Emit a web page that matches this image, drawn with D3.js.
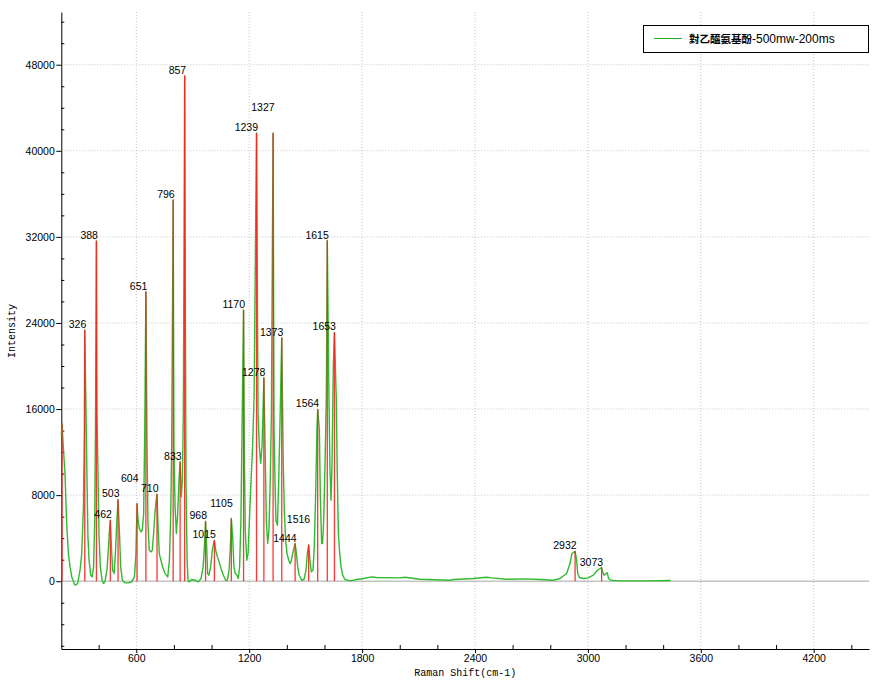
<!DOCTYPE html>
<html><head><meta charset="utf-8">
<script src="https://cdn.jsdelivr.net/npm/d3@7"></script>
<style>body{margin:0;background:#fff}</style>
</head><body><svg id="c" width="879" height="681"></svg>
<script>
// ---- DATA ----
const specShift = [202,205,212,221,230,239,248,257,274,288,301,310,319,324,326,333,338,343,349,358,366,373,379,383,388,391,397,402,409,418,427,435,444,451,457,462,467,474,482,489,496,503,510,517,526,540,558,575,590,598,604,609,616,625,632,639,645,651,657,662,669,678,685,692,699,705,710,715,722,731,740,753,767,776,783,788,796,800,806,813,820,827,833,839,845,850,857,864,870,875,880,894,912,930,944,955,962,968,974,979,986,995,1004,1015,1022,1031,1040,1050,1063,1075,1084,1093,1100,1105,1112,1119,1126,1135,1142,1149,1156,1162,1170,1174,1179,1187,1194,1201,1210,1218,1226,1239,1247,1254,1261,1268,1274,1278,1286,1291,1298,1305,1312,1318,1327,1332,1337,1342,1350,1357,1364,1373,1381,1387,1394,1401,1410,1419,1426,1435,1444,1451,1458,1466,1479,1491,1502,1509,1516,1523,1530,1539,1546,1553,1560,1564,1573,1578,1585,1590,1596,1603,1610,1615,1624,1629,1635,1640,1647,1653,1663,1668,1674,1681,1688,1697,1709,1736,1771,1807,1851,1877,2001,2028,2108,2267,2285,2391,2462,2489,2568,2675,2746,2816,2852,2887,2905,2915,2932,2940,2946,2955,2976,3002,3029,3050,3073,3078,3086,3096,3103,3110,3121,3171,3312,3440];
const specIntensity = [13500,14670,12490,10010,5360,2570,1330,400,-370,-220,1020,2570,6910,14050,23350,15600,9400,4130,1950,560,400,1330,5670,14050,31630,15600,9400,4130,1330,93,-220,93,1020,2880,4600,5670,3500,1020,710,2570,5360,7600,4740,1330,93,-155,-155,-62,400,2570,7230,5670,4900,4590,4740,6290,14050,26910,12490,5360,2880,2720,2880,4430,6290,7400,8090,5360,2570,1950,1330,710,400,1950,6290,12490,35440,12490,6910,4430,6290,9400,11100,7840,9400,15600,46980,9400,1950,93,-62,155,93,-62,250,1330,3190,5580,3190,710,560,1330,2880,3810,2880,2260,1800,1180,560,93,93,1020,3190,5830,4120,1330,710,560,250,1330,5670,14050,25200,12490,4740,1950,2570,5670,9400,12490,17150,41650,15600,12490,10950,12490,16220,18910,10950,5670,3500,4740,9400,15600,41650,14050,9400,5670,5200,9400,14980,22630,10950,6290,3810,2570,1950,1640,2100,2880,3500,2570,1330,560,93,155,1020,2570,3380,1950,870,1020,3190,7840,14050,15970,14050,7840,3500,3500,5670,10950,17150,31660,16840,10630,7530,10630,19940,23130,16840,10010,4430,2570,1330,560,155,31,155,250,400,340,310,370,180,93,155,250,370,310,186,217,155,93,250,720,1640,2570,2790,1950,720,340,250,310,560,1020,1270,870,560,720,780,250,93,31,31,62];

const peakShift = [205,326,388,462,503,604,651,710,796,833,857,968,1015,1105,1170,1239,1278,1327,1373,1444,1516,1564,1615,1653,2932,3073];
const peakIntensity = [14670,23350,31630,5670,7600,7230,26910,8090,35440,11100,46980,5580,3810,5830,25200,41650,18910,41650,22630,3500,3380,15970,31660,23130,2790,1270];
const peakLabels = ["","326","388","462","503","604","651","710","796","833","857","968","1015","1105","1170","1239","1278","1327","1373","1444","1516","1564","1615","1653","2932","3073"];

const xTickValues = [600,1200,1800,2400,3000,3600,4200];
const yTickValues = [0,8000,16000,24000,32000,40000,48000];
const legendName = "對乙醯氨基酚";
const legendSuffix = "-500mw-200ms";
const xTitle = "Raman Shift(cm-1)";
const yTitle = "Intensity";

// ---- LAYOUT ----
const labelLift = {"604":19,"1105":9,"1327":20,"1516":20};
const L = 61.3, R = 869, T = 12, B = 649;
const svg = d3.select("#c");
const x = d3.scaleLinear().domain([201.4, 4494]).range([L, R]);
const y = d3.scaleLinear().domain([-6300, 52900]).range([B, T]);
const tickFont = "'Liberation Sans', Arial, sans-serif";

// grid
const grid = svg.append("g").attr("stroke", "#c4c4c4").attr("stroke-width", 1).attr("stroke-dasharray", "1,2");
grid.selectAll("line.v").data(xTickValues).join("line")
  .attr("x1", d => x(d)).attr("x2", d => x(d)).attr("y1", T).attr("y2", B);
grid.selectAll("line.h").data(yTickValues.filter(d => d !== 0)).join("line")
  .attr("x1", L).attr("x2", R).attr("y1", d => y(d)).attr("y2", d => y(d));

// zero line
svg.append("line").attr("x1", L).attr("x2", R).attr("y1", y(0)).attr("y2", y(0))
  .attr("stroke", "#c3c3c3").attr("stroke-width", 1.6);

// minor tick values
const xMinor = d3.range(400, 4494, 200).filter(d => d % 600 !== 0);
const yMinor = d3.range(-6000, 52900, 2000).filter(d => d % 8000 !== 0);

// axes
const yAx = svg.append("g").attr("transform", `translate(${L},0)`)
  .call(d3.axisLeft(y).tickValues(yTickValues).tickSize(5).tickSizeOuter(0).tickPadding(1.5).tickFormat(d3.format("d")));
const yAxMinor = svg.append("g").attr("transform", `translate(${L},0)`)
  .call(d3.axisRight(y).tickValues(yMinor).tickSize(3).tickSizeOuter(0).tickFormat(""));
yAxMinor.select(".domain").remove();
const xAx = svg.append("g").attr("transform", `translate(0,${B})`)
  .call(d3.axisBottom(x).tickValues(xTickValues).tickSize(4).tickSizeOuter(0).tickPadding(1.5).tickFormat(d3.format("d")));
const xAxMinor = svg.append("g").attr("transform", `translate(0,${B})`)
  .call(d3.axisTop(x).tickValues(xMinor).tickSize(4).tickSizeOuter(0).tickFormat(""));
xAxMinor.select(".domain").remove();
[yAx, xAx, yAxMinor, xAxMinor].forEach(g => {
  g.selectAll("text").attr("font-family", tickFont).attr("font-size", "10.5px").attr("fill", "#000");
  g.selectAll("line").attr("stroke", "#000");
  g.selectAll(".domain").attr("stroke", "#000");
});

// spectrum line
const spec = specShift.map((s, i) => [s, specIntensity[i]]);
svg.append("path").datum(spec)
  .attr("fill", "none").attr("stroke", "#2fba2f").attr("stroke-width", 1.4).attr("stroke-linejoin", "round")
  .attr("d", d3.line().x(d => x(d[0])).y(d => y(d[1])));

// peak markers
const peaks = peakShift.map((s, i) => ({s, v: peakIntensity[i], label: peakLabels[i]}));
svg.append("g").selectAll("line").data(peaks).join("line")
  .attr("x1", d => x(d.s)).attr("x2", d => x(d.s))
  .attr("y1", y(0)).attr("y2", d => y(d.v))
  .attr("stroke", "#ff1e1e").attr("stroke-width", 1.3).attr("stroke-opacity", 0.9);

svg.append("g").selectAll("text").data(peaks.filter(d => d.label)).join("text")
  .attr("x", d => x(d.s) + 1.5)
  .attr("y", d => y(d.v) - 2 - (labelLift[d.label] || 0))
  .attr("text-anchor", "end")
  .attr("font-family", tickFont).attr("font-size", "10.5px").attr("fill", "#000")
  .text(d => d.label);

// axis titles
svg.append("text").attr("x", (L + R) / 2).attr("y", 676).attr("text-anchor", "middle")
  .attr("font-family", "'Liberation Mono', 'DejaVu Sans Mono', monospace").attr("font-size", "10px")
  .text(xTitle);
svg.append("text").attr("transform", `translate(15,331) rotate(-90)`).attr("text-anchor", "middle")
  .attr("font-family", "'Liberation Mono', 'DejaVu Sans Mono', monospace").attr("font-size", "10px")
  .text(yTitle);

// legend
const lg = svg.append("g");
lg.append("rect").attr("x", 643.5).attr("y", 25.5).attr("width", 225).attr("height", 27)
  .attr("fill", "#fff").attr("stroke", "#000").attr("stroke-width", 1);
lg.append("line").attr("x1", 654).attr("x2", 682).attr("y1", 38.5).attr("y2", 38.5)
  .attr("stroke", "#22aa22").attr("stroke-width", 1);
const lt = lg.append("text").attr("x", 689).attr("y", 42.5).attr("font-family", tickFont).attr("font-size", "12px").attr("fill", "#000");
lt.append("tspan").attr("font-family", "'Noto Sans CJK TC', 'Noto Sans CJK SC', sans-serif").attr("font-size", "10.5px").attr("font-weight", "bold").text(legendName);
lt.append("tspan").text(legendSuffix);
</script>
</body></html>
